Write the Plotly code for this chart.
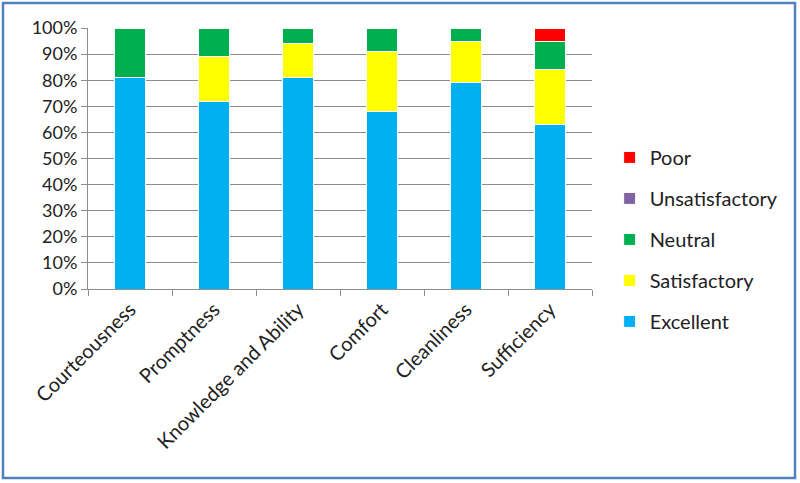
import plotly.graph_objects as go

categories = ["Courteousness", "Promptness", "Knowledge and Ability", "Comfort", "Cleanliness", "Sufficiency"]
excellent = [0.81, 0.72, 0.81, 0.68, 0.79, 0.63]
satisfactory = [0.00, 0.17, 0.13, 0.23, 0.16, 0.21]
neutral = [0.19, 0.11, 0.06, 0.09, 0.05, 0.11]
unsatisfactory = [0.00, 0.00, 0.00, 0.00, 0.00, 0.00]
poor = [0.00, 0.00, 0.00, 0.00, 0.00, 0.05]

series = [
    ("Excellent", excellent, "#00B0F0"),
    ("Satisfactory", satisfactory, "#FFFF00"),
    ("Neutral", neutral, "#00B050"),
    ("Unsatisfactory", unsatisfactory, "#8064A2"),
    ("Poor", poor, "#FF0000"),
]

FONT = "Lato, 'Open Sans', sans-serif"

fig = go.Figure()
n = len(series)
for i, (name, vals, color) in enumerate(series):
    fig.add_trace(go.Bar(
        x=categories, y=vals, name=name, legendgroup=name,
        legendrank=n - i,
        marker=dict(color=color, line=dict(color="white", width=1)),
        width=0.38, hoverinfo="x+y+name",
    ))

fig.update_layout(
    barmode="stack",
    width=800, height=483,
    margin=dict(l=88, r=208, t=28, b=194),
    paper_bgcolor="white", plot_bgcolor="white",
    font=dict(family=FONT, size=18, color="#222222"),
    legend=dict(
        traceorder="grouped", tracegroupgap=12,
        x=1.035, xanchor="left", y=0.19, yanchor="middle",
        font=dict(size=20, color="#222222"),
        itemwidth=30, bgcolor="rgba(0,0,0,0)",
    ),
    xaxis=dict(
        showline=True, linecolor="#8c8c8c", linewidth=1,
        ticks="outside", tickson="boundaries", ticklen=6, tickcolor="#8c8c8c",
        tickangle=-45, tickfont=dict(size=20, color="#222222"),
        showgrid=False,
    ),
    yaxis=dict(
        range=[0, 1], tickformat=".0%", dtick=0.1,
        showgrid=True, gridcolor="#8c8c8c", gridwidth=1,
        showline=True, linecolor="#8c8c8c", linewidth=1,
        ticks="outside", ticklen=6, tickcolor="#8c8c8c",
        tickfont=dict(size=18, color="#222222"),
        zeroline=False,
    ),
    shapes=[dict(
        type="rect", xref="paper", yref="paper",
        x0=(3 - 88) / 504, x1=(795 - 88) / 504,
        y0=(289 - 478) / 261, y1=(289 - 3) / 261,
        line=dict(color="#4F81BD", width=2.5), fillcolor="rgba(0,0,0,0)",
        layer="below",
    )],
)

fig.write_html(
    "out.html",
    config={"displayModeBar": False},
    post_script="document.body.style.margin='0';document.body.style.overflow='hidden';",
)
